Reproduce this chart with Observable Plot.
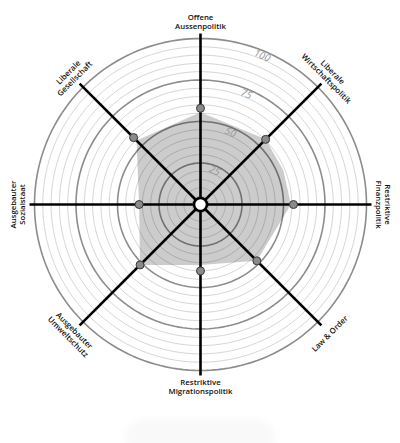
<!DOCTYPE html>
<html><head><meta charset="utf-8">
<script src="https://cdn.jsdelivr.net/npm/d3@7"></script>
<script src="https://cdn.jsdelivr.net/npm/@observablehq/plot@0.6"></script>
<style>
body{margin:0;background:#fff;font-family:"Open Sans",sans-serif;width:400px;}
#foot{height:28px;position:relative;overflow:hidden}
#foot .blob{position:absolute;left:125px;top:4px;width:150px;height:40px;border-radius:20px;background:#f9f9f9;filter:blur(3px)}
</style>
</head><body><div id="chart"></div><div id="foot"><div class="blob"></div></div>
<script>
const categories = ["Offene\nAussenpolitik","Liberale\nWirtschaftspolitik","Restriktive\nFinanzpolitik","Law & Order","Restriktive\nMigrationspolitik","Ausgebauter\nUmweltschutz","Ausgebauter\nSozialstaat","Liberale\nGesellschaft"];
const axisAngles = [0,45,90,135,180,225,270,315];
const labelRotations = [0,45,90,-45,0,45,-90,-45];
const candidateValues = [58,55.5,56,48,40,51.5,37,57];
const profileAngles = [0,45,67.5,90,135,180,225,270,315];
const profileValues = [55.5,55.5,54,54.5,48,36.5,51.5,37,54.5];
const ringValues = d3.range(5,101,5);
const majorRings = [25,50,75,100];
const ringLabels = ["25","50","75","100"];
const axisMax = 103;
const labelRadius = 110;

const W = 400, H = 415, cx = 200, cy = 204, k = 1.66;
const rad = a => a*Math.PI/180;
const px = (v,a) => v*Math.sin(rad(a));
const py = (v,a) => v*Math.cos(rad(a));

const ringPts = [];
for (const v of ringValues) for (let a = 0; a < 360; a += 2) ringPts.push({ring: v, major: majorRings.includes(v), x: px(v,a), y: py(v,a)});
const axes = axisAngles.map(a => ({x2: px(axisMax,a), y2: py(axisMax,a)}));
const profile = profileAngles.map((a,i) => ({x: px(profileValues[i],a), y: py(profileValues[i],a)}));
const cand = axisAngles.map((a,i) => ({x: px(candidateValues[i],a), y: py(candidateValues[i],a)}));
const labels = categories.map((c,i) => ({text: c, rot: labelRotations[i], x: px(labelRadius,axisAngles[i]), y: py(labelRadius,axisAngles[i])}));
const rlabels = majorRings.map((v,i) => ({text: ringLabels[i], x: px(v-3,22.5), y: py(v-3,22.5)}));

const chart = Plot.plot({
  width: W, height: H, margin: 0,
  x: {domain: [-cx/k, (W-cx)/k], axis: null},
  y: {domain: [-(H-cy)/k, cy/k], axis: null},
  style: {background: "transparent"},
  marks: [
    Plot.line(ringPts.filter(d => !d.major), {x: "x", y: "y", z: "ring", curve: "linear-closed", stroke: "#d6d6d6", strokeWidth: 1}),
    Plot.line(ringPts.filter(d => d.major), {x: "x", y: "y", z: "ring", curve: "linear-closed", stroke: "#8c8c8c", strokeWidth: 1.6}),
    Plot.line(profile, {x: "x", y: "y", curve: "linear-closed", fill: "#000", fillOpacity: 0.2, stroke: "none"}),
    Plot.text(rlabels, {x: "x", y: "y", text: "text", rotate: 22.5, fill: "#999", fontSize: 10, fontStyle: "italic"}),
    Plot.link(axes, {x1: 0, y1: 0, x2: "x2", y2: "y2", stroke: "#000", strokeWidth: 2.6}),
    Plot.dot(cand, {x: "x", y: "y", r: 4, fill: "#8a8a8a", stroke: "#3a3a3a", strokeWidth: 1}),
    Plot.dot([0], {x: () => 0, y: () => 0, r: 6.5, fill: "#fff", stroke: "#000", strokeWidth: 2.6}),
    Plot.text(labels, {x: "x", y: "y", text: "text", rotate: "rot", fontSize: 7.8, fontWeight: 600, fill: "#111", lineHeight: 1.15, fontFamily: "Open Sans"})
  ]
});
document.getElementById("chart").append(chart);
</script>
</body></html>
